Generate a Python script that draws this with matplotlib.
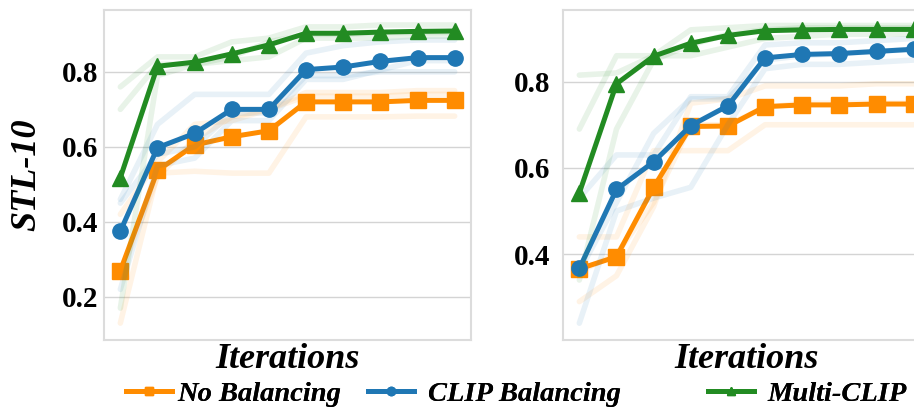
import matplotlib
matplotlib.use("Agg")
import matplotlib.pyplot as plt
from matplotlib.lines import Line2D

plt.rcParams["font.family"] = ["Liberation Serif", "DejaVu Serif"]

iters = list(range(10))

# left panel (STL-10), mean curves
left_none = [0.270, 0.537, 0.605, 0.627, 0.643, 0.720, 0.720, 0.720, 0.724, 0.724]
left_clip = [0.375, 0.598, 0.636, 0.700, 0.700, 0.806, 0.813, 0.828, 0.838, 0.838]
left_multi = [0.518, 0.815, 0.826, 0.848, 0.872, 0.903, 0.903, 0.906, 0.908, 0.909]

# left panel, individual runs (faint)
left_none_runs = [
    [0.42, 0.56, 0.66, 0.67, 0.70, 0.745, 0.745, 0.745, 0.750, 0.750],
    [0.26, 0.52, 0.62, 0.68, 0.70, 0.735, 0.735, 0.735, 0.740, 0.740],
    [0.13, 0.53, 0.535, 0.53, 0.53, 0.680, 0.680, 0.680, 0.682, 0.682],
]
left_clip_runs = [
    [0.46, 0.66, 0.74, 0.74, 0.74, 0.850, 0.870, 0.880, 0.885, 0.885],
    [0.45, 0.58, 0.60, 0.69, 0.69, 0.790, 0.790, 0.800, 0.800, 0.800],
    [0.22, 0.55, 0.57, 0.67, 0.67, 0.780, 0.780, 0.805, 0.830, 0.830],
]
left_multi_runs = [
    [0.76, 0.84, 0.84, 0.88, 0.89, 0.920, 0.920, 0.925, 0.925, 0.925],
    [0.70, 0.82, 0.82, 0.83, 0.84, 0.890, 0.890, 0.890, 0.895, 0.895],
    [0.17, 0.79, 0.82, 0.84, 0.88, 0.900, 0.900, 0.905, 0.905, 0.905],
]

# right panel, mean curves
right_none = [0.366, 0.394, 0.555, 0.696, 0.697, 0.742, 0.746, 0.746, 0.748, 0.748]
right_clip = [0.367, 0.550, 0.614, 0.698, 0.744, 0.855, 0.863, 0.865, 0.870, 0.875]
right_multi = [0.542, 0.795, 0.859, 0.889, 0.907, 0.918, 0.920, 0.921, 0.921, 0.921]

right_none_runs = [
    [0.44, 0.44, 0.64, 0.64, 0.64, 0.700, 0.700, 0.700, 0.700, 0.700],
    [0.36, 0.40, 0.52, 0.70, 0.70, 0.740, 0.750, 0.750, 0.750, 0.750],
    [0.29, 0.35, 0.51, 0.75, 0.76, 0.790, 0.790, 0.790, 0.795, 0.795],
]
right_clip_runs = [
    [0.53, 0.63, 0.63, 0.765, 0.765, 0.885, 0.890, 0.890, 0.895, 0.900],
    [0.36, 0.52, 0.68, 0.760, 0.760, 0.850, 0.860, 0.865, 0.870, 0.875],
    [0.24, 0.50, 0.53, 0.555, 0.700, 0.830, 0.840, 0.840, 0.845, 0.850],
]
right_multi_runs = [
    [0.815, 0.82, 0.86, 0.860, 0.880, 0.900, 0.905, 0.910, 0.910, 0.910],
    [0.690, 0.86, 0.86, 0.920, 0.925, 0.930, 0.930, 0.930, 0.930, 0.930],
    [0.340, 0.69, 0.85, 0.885, 0.910, 0.920, 0.925, 0.925, 0.925, 0.925],
]

labels = ["No Balancing", "CLIP Balancing", "Multi-CLIP"]
colors = ["#ff8c00", "#1f77b4", "#228b22"]
markers = ["s", "o", "^"]
msizes = [11, 11, 11]


def draw_panel(ax, means, runs, ylim, yticks):
    for mean, run_set, c, m, ms in zip(means, runs, colors, markers, msizes):
        for r in run_set:
            ax.plot(iters, r, color=c, lw=4, alpha=0.1, solid_capstyle="round")
        ax.plot(iters, mean, color=c, lw=3.6, marker=m, markersize=ms)
    ax.set_xlim(-0.44, 9.44)
    ax.set_ylim(*ylim)
    ax.set_yticks(yticks)
    ax.set_yticklabels([f"{t:.1f}" for t in yticks], fontsize=21, fontweight="bold")
    ax.set_xticks([])
    ax.grid(axis="y", color="#d4d4d4", lw=1.0)
    ax.set_axisbelow(True)
    for s in ax.spines.values():
        s.set_color("#dcdcdc")
        s.set_linewidth(1.5)
    ax.tick_params(axis="y", length=0)
    ax.set_xlabel("Iterations", fontsize=26, fontweight="bold", style="italic", labelpad=2)


fig = plt.figure(figsize=(9.14, 4.11), dpi=100)
W, H = 914, 411
ax1 = fig.add_axes([104 / W, 71 / H, 367 / W, 330 / H])
ax2 = fig.add_axes([563 / W, 71 / H, 367 / W, 330 / H])

draw_panel(ax1, [left_none, left_clip, left_multi],
           [left_none_runs, left_clip_runs, left_multi_runs],
           (0.085, 0.965), [0.2, 0.4, 0.6, 0.8])
ax1.tick_params(axis="y", pad=4)
ax1.set_ylabel("STL-10", fontsize=26, fontweight="bold", style="italic")
ax1.yaxis.set_label_coords(-0.164, 0.5)

draw_panel(ax2, [right_none, right_clip, right_multi],
           [right_none_runs, right_clip_runs, right_multi_runs],
           (0.201, 0.966), [0.4, 0.6, 0.8])
ax2.tick_params(axis="y", pad=9)

# one legend per entry so the spacing follows the reference
leg_x = [126, 368, 708]
leg_pad = [0.2, 0.5, 0.5]
for c, m, lab, x, tp in zip(colors, markers, labels, leg_x, leg_pad):
    h = Line2D([0], [0], color=c, lw=3.6, marker=m, markersize=6)
    leg = fig.legend([h], [lab], loc="center left", bbox_to_anchor=(x / W, 1 - 394 / H),
                     frameon=False, handlelength=1.6, handletextpad=tp,
                     borderpad=0, borderaxespad=0,
                     prop={"size": 20.5, "weight": "bold", "style": "italic"})
    fig.add_artist(leg)

fig.savefig("out.png", dpi=100)
